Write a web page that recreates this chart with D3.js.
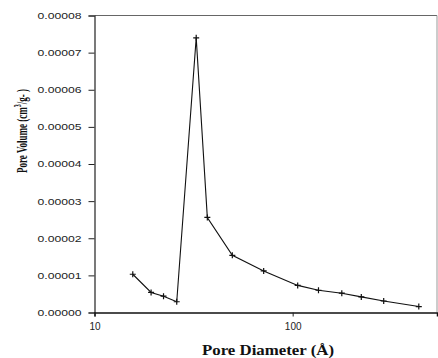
<!DOCTYPE html>
<html>
<head>
<meta charset="utf-8">
<script src="https://cdn.jsdelivr.net/npm/d3@7"></script>
<style>
  body { margin: 0; background: #fff; }
  svg { display: block; }
</style>
</head>
<body>
<div id="chart"></div>
<script>
// pore size distribution
let diameters = [15.6, 19.3, 22.3, 26.0, 32.6, 37.1, 49.6, 71.4, 106, 135, 177, 222, 288, 433]
let volumes = [0.0000103, 0.0000054, 0.0000044, 0.0000029, 0.0000740, 0.0000256, 0.0000154,
    0.0000112, 0.0000073, 0.0000060, 0.0000052, 0.0000042, 0.0000031, 0.0000016]
let y_ticks = [0, 0.00001, 0.00002, 0.00003, 0.00004, 0.00005, 0.00006, 0.00007, 0.00008]
let x_ticks = [10, 100]

let width = 438, height = 358
let margin = { top: 15.5, right: 1, bottom: 45.5, left: 94.5 }

let svg = d3.select("#chart").append("svg")
    .attr("width", width)
    .attr("height", height)

let x = d3.scaleLog()
    .domain([10, 535])
    .range([margin.left, width - margin.right])
let y = d3.scaleLinear()
    .domain([0, 0.00008])
    .range([height - margin.bottom, margin.top])

// frame (top and right are faint in the scan)
svg.append("line")
    .attr("x1", margin.left).attr("x2", width - margin.right)
    .attr("y1", margin.top).attr("y2", margin.top)
    .attr("stroke", "#666").attr("stroke-width", 1)
svg.append("line")
    .attr("x1", width - margin.right).attr("x2", width - margin.right)
    .attr("y1", margin.top).attr("y2", height - margin.bottom)
    .attr("stroke", "#999").attr("stroke-width", 1)

let y_axis = svg.append("g")
    .attr("transform", "translate(" + margin.left + ",0)")
    .call(d3.axisLeft(y).tickValues(y_ticks).tickFormat(d3.format(".5f")).tickSize(6).tickPadding(7))
y_axis.select(".domain").attr("stroke", "#222").attr("stroke-width", 1.2)
y_axis.selectAll(".tick line").attr("stroke", "#222")
y_axis.selectAll("text")
    .style("font-family", "'Liberation Sans', Arial, sans-serif")
    .style("font-size", "9px")
    .attr("textLength", 44)
    .attr("lengthAdjust", "spacingAndGlyphs")
    .attr("fill", "#222")

let x_axis = svg.append("g")
    .attr("transform", "translate(0," + (height - margin.bottom) + ")")
    .call(d3.axisBottom(x).tickValues(x_ticks).tickFormat(d3.format("d")).tickSize(4).tickPadding(6))
x_axis.select(".domain").attr("stroke", "#111").attr("stroke-width", 1.5)
x_axis.selectAll(".tick line").attr("stroke", "#222")
x_axis.selectAll("text")
    .style("font-family", "'Liberation Sans', Arial, sans-serif")
    .style("font-size", "10px")
    .attr("fill", "#222")

// data line
let pts = diameters.map((d, i) => [d, volumes[i]])
svg.append("path")
    .datum(pts)
    .attr("fill", "none")
    .attr("stroke", "#111")
    .attr("stroke-width", 1.1)
    .attr("d", d3.line().x(d => x(d[0])).y(d => y(d[1])))

// plus markers
svg.selectAll(".marker")
    .data(pts)
    .enter()
    .append("path")
    .attr("class", "marker")
    .attr("transform", d => "translate(" + x(d[0]) + "," + y(d[1]) + ")")
    .attr("d", "M-3,0H3M0,-3V3")
    .attr("stroke", "#111")
    .attr("stroke-width", 1.2)

// axis titles
svg.append("text")
    .attr("x", 202)
    .attr("y", 355)
    .attr("textLength", 132)
    .attr("lengthAdjust", "spacingAndGlyphs")
    .style("font-family", "'Liberation Serif', 'Times New Roman', serif")
    .style("font-weight", "bold")
    .style("font-size", "14px")
    .attr("fill", "#111")
    .text("Pore Diameter (Å)")

let ylab = svg.append("text")
    .attr("transform", "translate(27,131) rotate(-90) scale(0.6,1)")
    .attr("text-anchor", "middle")
    .style("font-family", "'Liberation Serif', 'Times New Roman', serif")
    .style("font-weight", "bold")
    .style("font-size", "15px")
    .attr("fill", "#111")
ylab.append("tspan").text("Pore Volume (cm")
ylab.append("tspan").attr("dy", -6).style("font-size", "10px").text("3")
ylab.append("tspan").attr("dy", 6).text("/g-   )")
</script>
</body>
</html>
